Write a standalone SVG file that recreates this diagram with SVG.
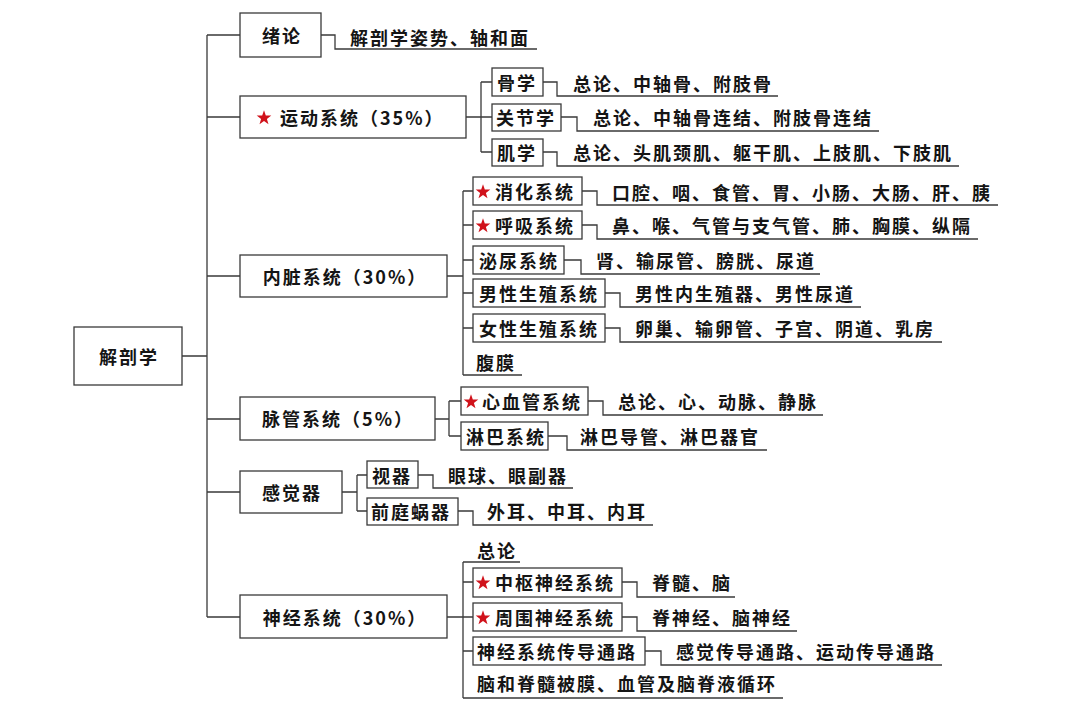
<svg xmlns="http://www.w3.org/2000/svg" width="1080" height="718" viewBox="0 0 1080 718">
<style>
.t{font-family:"Noto Sans CJK SC","Noto Sans",sans-serif;font-size:18px;font-weight:700;letter-spacing:2px;fill:#151515;dominant-baseline:central}
.m{text-anchor:middle}
.box{fill:#fff;stroke:#3a3a3a;stroke-width:1.3}
.ln{fill:none;stroke:#3a3a3a;stroke-width:1.3}
.star{fill:#d0121b}
</style>
<defs>
<path id="star" d="M0,-7.7 L1.8,-2.5 L7.3,-2.4 L2.9,1 L4.5,6.2 L0,3.1 L-4.5,6.2 L-2.9,1 L-7.3,-2.4 L-1.8,-2.5 Z"/>
</defs>
<rect width="1080" height="718" fill="#fff"/>

<g id="connectors" class="ln">
<path d="M182,356 H207 M207,35 V617 M207,35 H240 M207,117 H240 M207,276 H240 M207,419 H240 M207,492 H240 M207,617 H240"/>
<path d="M321,35 H335 V49 H537"/>
<path d="M466,117 H492 M481,82 V152 M481,82 H492 M481,152 H492"/>
<path d="M543,82 H557 V96 H778"/>
<path d="M561,117 H577 V131 H879"/>
<path d="M543,152 H557 V166 H959"/>
<path d="M447,276 H463 M463,191 V375 M463,191 H473 M463,225 H473 M463,260 H473 M463,293 H473 M463,328 H473 M463,375 H522"/>
<path d="M582,191 H597 V205 H998"/>
<path d="M582,225 H597 V239 H978"/>
<path d="M564,260 H581 V274 H820"/>
<path d="M605,293 H620 V307 H861"/>
<path d="M605,328 H620 V342 H942"/>
<path d="M435,419 H449 M449,401 V436 M449,401 H461 M449,436 H461"/>
<path d="M588,401 H603 V415 H823"/>
<path d="M548,436 H567 V450 H767"/>
<path d="M342,492 H357 M357,475 V511 M357,475 H367 M357,511 H367"/>
<path d="M418,475 H433 V488 H573"/>
<path d="M458,511 H473 V525 H653"/>
<path d="M447,617 H473 M463,562 V698 M463,582 H473 M463,651 H473 M463,562 H520 M463,698 H783"/>
<path d="M622,582 H637 V597 H735"/>
<path d="M622,617 H637 V631 H797"/>
<path d="M645,651 H661 V665 H942"/>
</g>

<g id="root">
<rect class="box" x="74" y="327" width="108" height="58"/>
<text class="t m" x="129" y="356">解剖学</text>
</g>

<g id="xulun">
<rect class="box" x="240" y="13" width="81" height="44"/>
<text class="t" x="262" y="35">绪论</text>
<text class="t" x="350" y="37">解剖学姿势、轴和面</text>
</g>

<g id="yundong">
<rect class="box" x="240" y="96" width="226" height="42"/>
<use href="#star" class="star" x="264" y="118"/>
<text class="t" x="280" y="117">运动系统（35%）</text>
</g>
<g id="guxue">
<rect class="box" x="492" y="68" width="51" height="28"/>
<text class="t" x="497" y="82">骨学</text>
<text class="t" x="573" y="83">总论、中轴骨、附肢骨</text>
</g>
<g id="guanjie">
<rect class="box" x="492" y="104" width="69" height="27"/>
<text class="t" x="496" y="117">关节学</text>
<text class="t" x="593" y="117">总论、中轴骨连结、附肢骨连结</text>
</g>
<g id="jixue">
<rect class="box" x="492" y="139" width="51" height="27"/>
<text class="t" x="497" y="152">肌学</text>
<text class="t" x="573" y="152">总论、头肌颈肌、躯干肌、上肢肌、下肢肌</text>
</g>

<g id="neizang">
<rect class="box" x="240" y="255" width="207" height="42"/>
<text class="t m" x="345" y="276">内脏系统（30%）</text>
</g>
<g id="xiaohua">
<rect class="box" x="473" y="177" width="109" height="28"/>
<use href="#star" class="star" x="483" y="192"/>
<text class="t" x="495" y="191">消化系统</text>
<text class="t" x="612" y="192">口腔、咽、食管、胃、小肠、大肠、肝、胰</text>
</g>
<g id="huxi">
<rect class="box" x="473" y="211" width="109" height="28"/>
<use href="#star" class="star" x="483" y="226"/>
<text class="t" x="495" y="225">呼吸系统</text>
<text class="t" x="612" y="225">鼻、喉、气管与支气管、肺、胸膜、纵隔</text>
</g>
<g id="miniao">
<rect class="box" x="473" y="246" width="91" height="28"/>
<text class="t" x="479" y="260">泌尿系统</text>
<text class="t" x="596" y="260">肾、输尿管、膀胱、尿道</text>
</g>
<g id="nanxing">
<rect class="box" x="473" y="279" width="132" height="28"/>
<text class="t" x="479" y="293">男性生殖系统</text>
<text class="t" x="635" y="293">男性内生殖器、男性尿道</text>
</g>
<g id="nvxing">
<rect class="box" x="473" y="314" width="132" height="28"/>
<text class="t" x="479" y="328">女性生殖系统</text>
<text class="t" x="635" y="328">卵巢、输卵管、子宫、阴道、乳房</text>
</g>
<g id="fumo">
<text class="t" x="476" y="362">腹膜</text>
</g>

<g id="maiguan">
<rect class="box" x="240" y="397" width="195" height="43"/>
<text class="t m" x="338" y="418">脉管系统（5%）</text>
</g>
<g id="xinxueguan">
<rect class="box" x="461" y="387" width="127" height="28"/>
<use href="#star" class="star" x="471" y="402"/>
<text class="t" x="482" y="401">心血管系统</text>
<text class="t" x="618" y="401">总论、心、动脉、静脉</text>
</g>
<g id="linba">
<rect class="box" x="461" y="422" width="87" height="28"/>
<text class="t" x="466" y="436">淋巴系统</text>
<text class="t" x="580" y="436">淋巴导管、淋巴器官</text>
</g>

<g id="ganjue">
<rect class="box" x="240" y="471" width="102" height="42"/>
<text class="t m" x="292" y="492">感觉器</text>
</g>
<g id="shiqi">
<rect class="box" x="367" y="461" width="51" height="27"/>
<text class="t" x="372" y="475">视器</text>
<text class="t" x="448" y="475">眼球、眼副器</text>
</g>
<g id="qianting">
<rect class="box" x="367" y="498" width="91" height="27"/>
<text class="t" x="371" y="511">前庭蜗器</text>
<text class="t" x="487" y="511">外耳、中耳、内耳</text>
</g>

<g id="shenjing">
<rect class="box" x="240" y="595" width="207" height="43"/>
<text class="t m" x="345" y="617">神经系统（30%）</text>
</g>
<g id="zonglun">
<text class="t" x="477" y="550">总论</text>
</g>
<g id="zhongshu">
<rect class="box" x="473" y="568" width="149" height="29"/>
<use href="#star" class="star" x="483" y="583"/>
<text class="t" x="495" y="582">中枢神经系统</text>
<text class="t" x="652" y="582">脊髓、脑</text>
</g>
<g id="zhouwei">
<rect class="box" x="473" y="603" width="149" height="28"/>
<use href="#star" class="star" x="483" y="618"/>
<text class="t" x="495" y="617">周围神经系统</text>
<text class="t" x="652" y="617">脊神经、脑神经</text>
</g>
<g id="chuandao">
<rect class="box" x="473" y="637" width="172" height="28"/>
<text class="t" x="477" y="651">神经系统传导通路</text>
<text class="t" x="676" y="651">感觉传导通路、运动传导通路</text>
</g>
<g id="naomo">
<text class="t" x="477" y="683">脑和脊髓被膜、血管及脑脊液循环</text>
</g>
</svg>
